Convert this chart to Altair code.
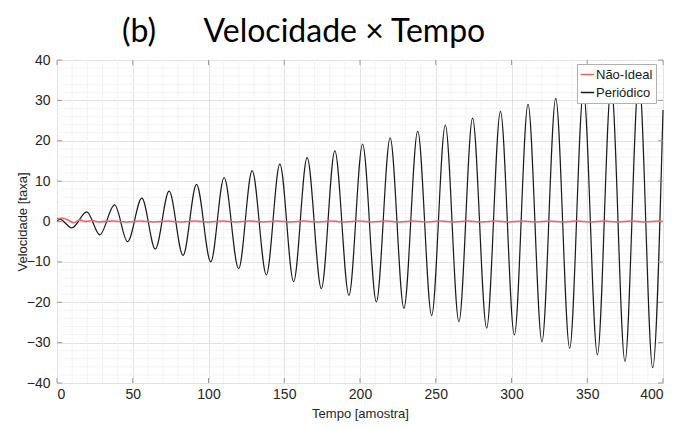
import altair as alt
import pandas as pd

# ---- data ----
# "Periódico": successive extremes (sample, value)
t_per = [0, 1.8, 9.8, 19.7, 28.2, 38.0, 46.6, 56.0, 64.9, 74.0, 83.2, 92.1, 101.5,
         110.3, 119.9, 128.8, 138.2, 147.1, 156.2, 165.1, 174.5, 183.4, 192.7,
         201.7, 210.8, 219.9, 229.0, 238.1, 247.3, 256.3, 265.3, 274.3, 283.6,
         292.7, 301.9, 310.9, 320.1, 329.2, 338.4, 347.5, 356.7, 365.8, 374.9,
         384.1, 393.2, 400]
v_per = [0, 0.6, -1.6, 2.4, -3.3, 4.1, -5.0, 5.8, -6.8, 7.5, -8.4, 9.2, -10.0,
         10.9, -11.7, 12.6, -13.2, 14.2, -14.9, 15.8, -16.6, 17.5, -18.3,
         19.2, -19.9, 20.7, -21.5, 22.4, -23.3, 23.9, -24.8, 25.6, -26.4,
         27.3, -28.1, 29.0, -29.8, 30.5, -31.4, 32.2, -33.0, 33.9, -34.7,
         35.6, -36.2, 27.6]

# "Não-Ideal": nearly zero, small early wobble
t_ni = [0, 4, 8, 11, 15, 19, 23, 28, 37, 46, 55, 64, 73, 82, 91, 100, 109, 118,
        127, 136, 145, 154, 163, 172, 181, 190, 199, 208, 217, 226, 235, 244,
        253, 262, 271, 280, 289, 298, 307, 316, 325, 334, 343, 352, 361, 370,
        379, 388, 397, 400]
v_ni = [0.7, 0.8, 0.2, -0.3, 0.35, 0.0, 0.25, -0.1, 0.12, -0.12, 0.12, -0.12,
        0.12, -0.12, 0.12, -0.12, 0.12, -0.12, 0.12, -0.12, 0.12, -0.12, 0.12,
        -0.12, 0.12, -0.12, 0.12, -0.12, 0.12, -0.12, 0.12, -0.12, 0.12, -0.12,
        0.12, -0.12, 0.12, -0.12, 0.12, -0.12, 0.12, -0.12, 0.12, -0.12, 0.12,
        -0.12, 0.12, -0.12, 0.12, 0.0]

series_names = ["Não-Ideal", "Periódico"]
series_colors = ["#f2606b", "#1a1a1a"]

x_major = [0, 50, 100, 150, 200, 250, 300, 350, 400]
y_major = [-40, -30, -20, -10, 0, 10, 20, 30, 40]
x_minor = [v for v in range(10, 400, 10) if v % 50 != 0]
y_minor = [v for v in range(-38, 40, 2) if v % 10 != 0]

W, H = 606, 323

df_per = pd.DataFrame({"t": t_per, "v": v_per, "serie": series_names[1]})
df_ni = pd.DataFrame({"t": t_ni, "v": v_ni, "serie": series_names[0]})

xscale = alt.Scale(domain=[0, 400], nice=False, zero=False)
yscale = alt.Scale(domain=[-40, 40], nice=False, zero=False)
color = alt.Color("serie:N", scale=alt.Scale(domain=series_names, range=series_colors),
                  sort=series_names,
                  legend=alt.Legend(title=None, orient="none", legendX=520, legendY=4,
                                    symbolType="stroke", symbolSize=180,
                                    symbolStrokeWidth=1.5, labelFont="Liberation Sans",
                                    labelFontSize=13, labelColor="#1a1a1a",
                                    fillColor="white", strokeColor="#b0b0b0",
                                    padding=3, rowPadding=3, labelOffset=1))

xaxis = alt.Axis(values=x_major, grid=True, gridColor="#e2e2e2", ticks=False, domain=False,
                 labelFont="Liberation Sans", labelFontSize=14, labelColor="#262626",
                 labelPadding=4, title="Tempo [amostra]", titleFont="Liberation Sans",
                 titleFontSize=13, titleFontWeight="normal", titleColor="#262626",
                 titlePadding=6)
yaxis = alt.Axis(values=y_major, grid=True, gridColor="#e2e2e2", ticks=False, domain=False,
                 labelFont="Liberation Sans", labelFontSize=14, labelColor="#262626",
                 labelPadding=7, title="Velocidade [taxa]", titleFont="Liberation Sans",
                 titleFontSize=13, titleFontWeight="normal", titleColor="#262626",
                 titlePadding=-3)

minor_col = "#f3f3f3"
minor_x = alt.Chart(pd.DataFrame({"m": x_minor})).mark_rule(
    color=minor_col, strokeWidth=1).encode(
    x=alt.X("m:Q", scale=xscale, axis=xaxis), y=alt.value(0), y2=alt.value(H))
minor_y = alt.Chart(pd.DataFrame({"m": y_minor})).mark_rule(
    color=minor_col, strokeWidth=1).encode(
    y=alt.Y("m:Q", scale=yscale, axis=yaxis), x=alt.value(0), x2=alt.value(W))

tick_col = "#9a9a9a"
tx = pd.DataFrame({"m": x_major})
ty = pd.DataFrame({"m": y_major})
ticks_bottom = alt.Chart(tx).mark_rule(color=tick_col).encode(
    x=alt.X("m:Q", scale=xscale, axis=xaxis), y=alt.value(H), y2=alt.value(H - 5))
ticks_top = alt.Chart(tx).mark_rule(color=tick_col).encode(
    x=alt.X("m:Q", scale=xscale, axis=xaxis), y=alt.value(0), y2=alt.value(5))
ticks_left = alt.Chart(ty).mark_rule(color=tick_col).encode(
    y=alt.Y("m:Q", scale=yscale, axis=yaxis), x=alt.value(0), x2=alt.value(5))
ticks_right = alt.Chart(ty).mark_rule(color=tick_col).encode(
    y=alt.Y("m:Q", scale=yscale, axis=yaxis), x=alt.value(W), x2=alt.value(W - 5))

line_per = alt.Chart(df_per).mark_line(strokeWidth=1.2, interpolate="monotone").encode(
    x=alt.X("t:Q", scale=xscale, axis=xaxis),
    y=alt.Y("v:Q", scale=yscale, axis=yaxis),
    color=color)
line_ni = alt.Chart(df_ni).mark_line(strokeWidth=1.7, interpolate="monotone").encode(
    x=alt.X("t:Q", scale=xscale, axis=xaxis),
    y=alt.Y("v:Q", scale=yscale, axis=yaxis),
    color=color)

chart = alt.layer(minor_x, minor_y, line_per, line_ni,
                  ticks_bottom, ticks_top, ticks_left, ticks_right).properties(
    width=W, height=H,
    title=alt.TitleParams(text="(b)\u2003\u00a0\u00a0\u00a0Velocidade × Tempo", anchor="start",
                          frame="group", dx=65, offset=4, font="Lato", fontSize=32,
                          fontWeight="normal", color="#000000"),
    autosize=alt.AutoSizeParams(type="none"),
    padding={"left": 57, "top": 60, "right": 15, "bottom": 45},
).configure_view(stroke="#b3b3b3", strokeWidth=1).configure(background="white")

chart.save("out.html", embed_options={"renderer": "svg", "actions": False})
